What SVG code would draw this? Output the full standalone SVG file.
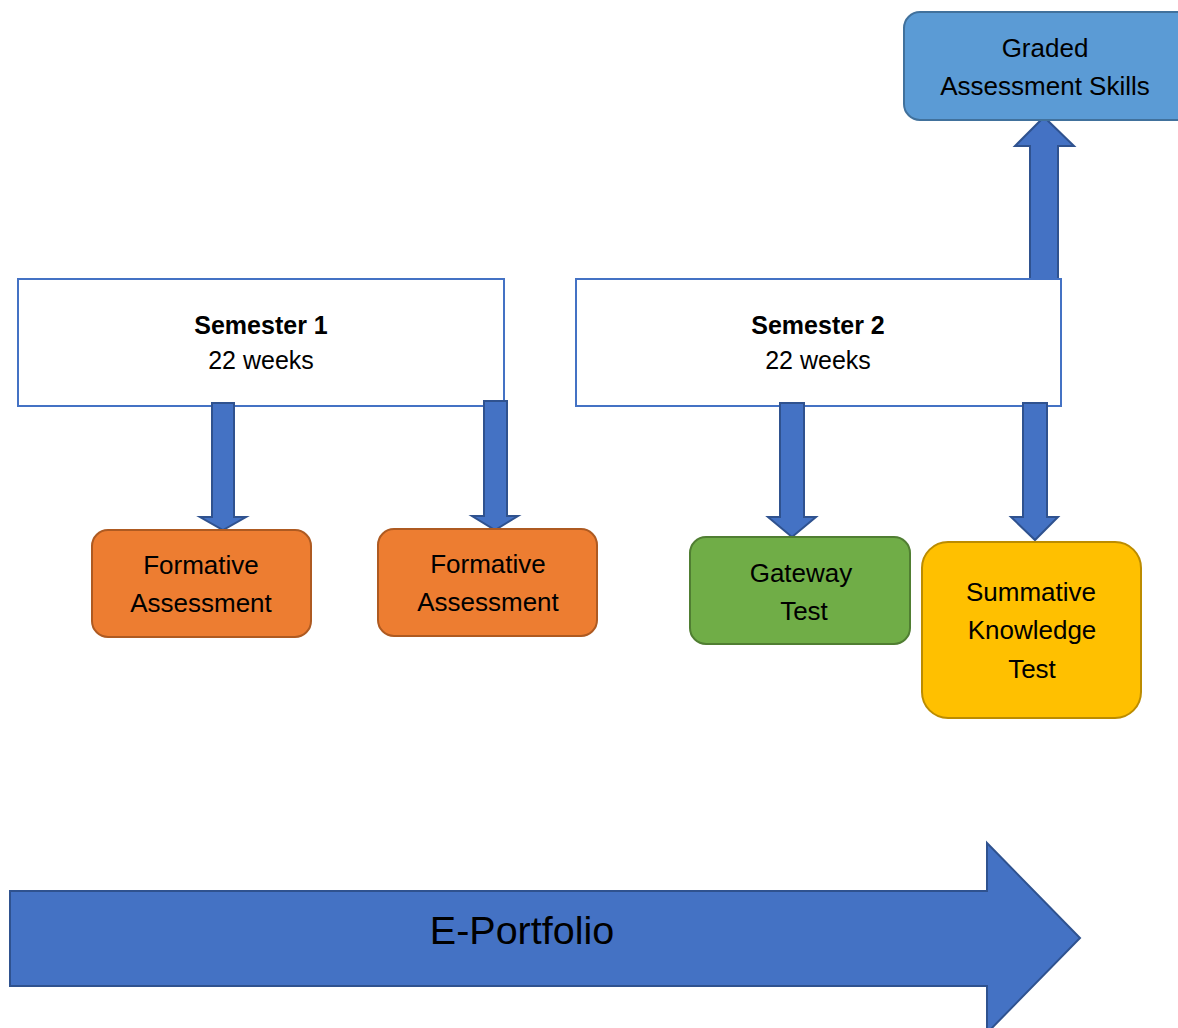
<svg xmlns="http://www.w3.org/2000/svg" width="1178" height="1028" viewBox="0 0 1178 1028">
<style>
text{font-family:"Liberation Sans",Arial,sans-serif;fill:#000;text-anchor:middle}
.lbl{font-size:26px}
.sm{font-size:25px}
.b{font-weight:bold}
.sem{fill:#fff;stroke:#4472C4;stroke-width:2}
.arr{fill:#4472C4;stroke:#2F528F;stroke-width:2;stroke-linejoin:miter}
</style>
<rect width="1178" height="1028" fill="#fff"/>
<g id="connectors">
<path class="arr" d="M1030,279 V146 H1015 L1044,117 L1074,146 H1058 V279 Z"/>
</g>
<g id="semester1">
<rect class="sem" x="18" y="279" width="486" height="127"/>
<text class="sm b" x="261" y="334">Semester 1</text>
<text class="sm" x="261" y="369">22 weeks</text>
</g>
<g id="semester2">
<rect class="sem" x="576" y="279" width="485" height="127"/>
<text class="sm b" x="818" y="334">Semester 2</text>
<text class="sm" x="818" y="369">22 weeks</text>
</g>
<g id="connectors-down">
<path class="arr" d="M212,403 V517 H200 L223,530 L246,517 H234 V403 Z"/>
<path class="arr" d="M484,401 V516 H472 L495,530 L518,516 H507 V401 Z"/>
<path class="arr" d="M780,403 V517 H768 L792,537 L816,517 H804 V403 Z"/>
<path class="arr" d="M1023,403 V517 H1011 L1035,540 L1058,517 H1047 V403 Z"/>
</g>
<g id="graded">
<rect x="904" y="12" width="290" height="108" rx="16" fill="#5B9BD5" stroke="#41719C" stroke-width="2"/>
<text class="lbl" x="1045" y="57">Graded</text>
<text class="lbl" x="1045" y="95">Assessment Skills</text>
</g>
<g id="formative1">
<rect x="92" y="530" width="219" height="107" rx="16" fill="#ED7D31" stroke="#AE5A21" stroke-width="2"/>
<text class="lbl" x="201" y="574">Formative</text>
<text class="lbl" x="201" y="612">Assessment</text>
</g>
<g id="formative2">
<rect x="378" y="529" width="219" height="107" rx="16" fill="#ED7D31" stroke="#AE5A21" stroke-width="2"/>
<text class="lbl" x="488" y="573">Formative</text>
<text class="lbl" x="488" y="611">Assessment</text>
</g>
<g id="gateway">
<rect x="690" y="537" width="220" height="107" rx="16" fill="#70AD47" stroke="#507E32" stroke-width="2"/>
<text class="lbl" x="801" y="582">Gateway</text>
<text class="lbl" x="804" y="620">Test</text>
</g>
<g id="summative">
<rect x="922" y="542" width="219" height="176" rx="26" fill="#FFC000" stroke="#BC8C00" stroke-width="2"/>
<text class="lbl" x="1031" y="601">Summative</text>
<text class="lbl" x="1032" y="639">Knowledge</text>
<text class="lbl" x="1032" y="678">Test</text>
</g>
<g id="eportfolio">
<path class="arr" d="M10,891 H987 V843 L1080,938 L987,1033 V986 H10 Z"/>
<text x="522" y="944" style="font-size:39.5px">E-Portfolio</text>
</g>
</svg>
